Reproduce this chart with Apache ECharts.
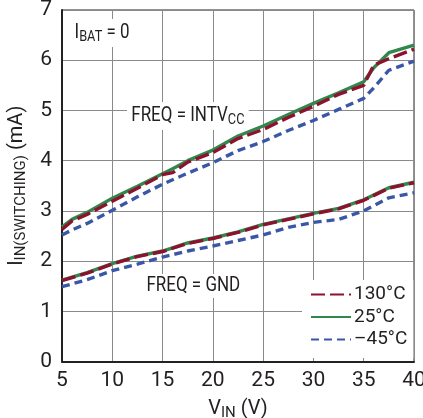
<!DOCTYPE html>
<html>
<head>
<meta charset="utf-8">
<script src="https://cdn.jsdelivr.net/npm/echarts@6/dist/echarts.min.js"></script>
<style>html,body{margin:0;padding:0;background:#fff}#c{width:423px;height:418px}</style>
</head>
<body>
<div id="c"></div>
<script>
// ---- data ----
const vinHigh = [5, 6, 7.5, 10, 12.5, 15, 16, 17.5, 20, 22.5, 25, 27.5, 30, 32.5, 35, 36, 37.5, 40];
const freqIntvcc130 = [2.63, 2.80, 2.93, 3.19, 3.45, 3.72, 3.76, 3.97, 4.16, 4.44, 4.62, 4.86, 5.08, 5.32, 5.50, 5.90, 6.03, 6.22];
const freqIntvcc25  = [2.68, 2.83, 2.97, 3.25, 3.49, 3.74, 3.84, 4.00, 4.21, 4.49, 4.69, 4.92, 5.14, 5.35, 5.57, 5.85, 6.15, 6.30];
const freqIntvccM45 = [2.52, 2.62, 2.75, 3.01, 3.28, 3.53, 3.62, 3.75, 3.96, 4.20, 4.38, 4.60, 4.80, 5.02, 5.24, 5.45, 5.80, 5.98];

const vinLow = [5, 7.5, 10, 12.5, 15, 17.5, 20, 22.5, 25, 27.5, 30, 32.5, 35, 37.5, 40];
const freqGnd130 = [1.61, 1.76, 1.94, 2.09, 2.19, 2.35, 2.45, 2.57, 2.72, 2.83, 2.94, 3.04, 3.21, 3.45, 3.56];
const freqGnd25  = [1.62, 1.77, 1.95, 2.10, 2.20, 2.36, 2.46, 2.58, 2.73, 2.84, 2.95, 3.05, 3.22, 3.46, 3.57];
const freqGndM45 = [1.49, 1.63, 1.81, 1.94, 2.08, 2.20, 2.30, 2.41, 2.52, 2.67, 2.77, 2.83, 3.00, 3.26, 3.36];

const xTicks = [5, 10, 15, 20, 25, 30, 35, 40];
const yTicks = [0, 1, 2, 3, 4, 5, 6, 7];
const legendNames = ['130°C', '25°C', '–45°C'];

// ---- chart ----
const FONT = 'Roboto, "Liberation Sans", sans-serif';
const TXT = '#231f20';
const RED = '#8b1330', GREEN = '#32884c', BLUE = '#3a57a7';
const zip = (xs, ys) => xs.map((x, i) => [x, ys[i]]);

function line(name, xs, ys, color, type, z) {
  return {
    name, type: 'line', data: zip(xs, ys), showSymbol: false, symbol: 'none',
    z, lineStyle: { color, width: 3.4, type, cap: 'butt' }, itemStyle: { color },
    animation: false
  };
}
const redDash = [14, 5];
const blueDash = [8, 5];

const richSub = (main, sub) => ({
  m: { fontFamily: FONT, fontSize: main, color: TXT, fill: TXT },
  s: { fontFamily: FONT, fontSize: sub, color: TXT, fill: TXT, padding: [9, 0, 0, 0] }
});

const chart = echarts.init(document.getElementById('c'), null, { renderer: 'canvas' });
chart.setOption({
  backgroundColor: '#fff',
  animation: false,
  grid: { left: 62, right: 9, top: 10, bottom: 56.5, show: true, borderColor: '#222', borderWidth: 1,
          containLabel: false, outerBoundsMode: 'none' },
  xAxis: {
    type: 'value', min: xTicks[0], max: xTicks[xTicks.length - 1], interval: 5,
    axisLine: { show: true, lineStyle: { color: '#222', width: 2 } },
    axisTick: { show: false },
    splitLine: { show: true, lineStyle: { color: '#8a8a8a', width: 1 } },
    axisLabel: { color: TXT, fontFamily: FONT, fontSize: 21, margin: 9 },
    name: '{m|V}{s|IN}{m| (V)}', nameLocation: 'middle', nameGap: 35,
    nameTextStyle: { rich: richSub(20, 15) }
  },
  yAxis: {
    type: 'value', min: yTicks[0], max: yTicks[yTicks.length - 1], interval: 1,
    axisLine: { show: true, lineStyle: { color: '#222', width: 2 } },
    axisTick: { show: false },
    splitLine: { show: true, lineStyle: { color: '#8a8a8a', width: 1 } },
    axisLabel: { color: TXT, fontFamily: FONT, fontSize: 21, margin: 10, padding: [4, 0, 0, 0] },
    name: '{m|I}{s|IN(SWITCHING)}{m| (mA)}', nameLocation: 'middle', nameGap: 33,
    nameTextStyle: { rich: richSub(20, 15) }
  },
  legend: {
    data: legendNames, orient: 'vertical', left: 302, top: 280,
    backgroundColor: '#fff', padding: [5, 6, 9, 8],
    itemWidth: 40, itemHeight: 14, itemGap: 3.5,
    itemStyle: { opacity: 0 },
    textStyle: { fontFamily: FONT, fontSize: 19, lineHeight: 19, color: TXT, padding: [0, 0, 0, -2] },
    selectedMode: false
  },
  series: [
    line('25°C', vinHigh, freqIntvcc25, GREEN, 'solid', 2),
    line('130°C', vinHigh, freqIntvcc130, RED, redDash, 3),
    line('–45°C', vinHigh, freqIntvccM45, BLUE, blueDash, 2),
    line('25°C', vinLow, freqGnd25, GREEN, 'solid', 2),
    line('130°C', vinLow, freqGnd130, RED, redDash, 3),
    line('–45°C', vinLow, freqGndM45, BLUE, blueDash, 2)
  ],
  graphic: [
    { type: 'text', x: 72, y: 19, scaleX: 0.85, z: 10,
      style: { text: '{m|I}{s|BAT}{m| = 0}', backgroundColor: '#fff', padding: [2, 3, 2, 3],
        rich: richSub(20, 15) } },
    { type: 'text', x: 127, y: 102, scaleX: 0.85, z: 10,
      style: { text: '{m|FREQ = INTV}{s|CC}', backgroundColor: '#fff', padding: [2, 5, 2, 5],
        rich: richSub(20, 15) } },
    { type: 'text', x: 143, y: 274, scaleX: 0.85, z: 10,
      style: { text: 'FREQ = GND', backgroundColor: '#fff', padding: [2, 4, 2, 4],
        font: '20px ' + FONT, fill: TXT } }
  ]
});
</script>
</body>
</html>
